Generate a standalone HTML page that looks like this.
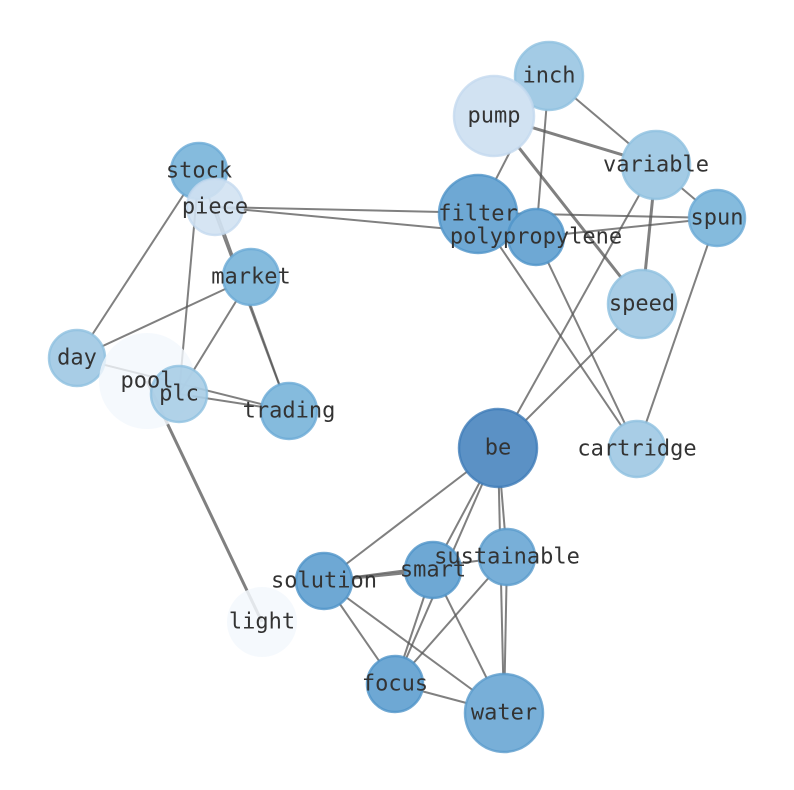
<!DOCTYPE html>
<html><head><meta charset="utf-8"><style>html,body{margin:0;padding:0;background:#fff}svg{display:block}</style></head>
<body>
<svg width="794" height="790" viewBox="0 0 794 790" xmlns="http://www.w3.org/2000/svg">
<g stroke="#555" stroke-opacity="0.75" stroke-width="2" fill="none">
<line x1="549" y1="76" x2="478" y2="214"/>
<line x1="549" y1="76" x2="536" y2="237"/>
<line x1="549" y1="76" x2="717" y2="218"/>
<line x1="494" y1="116" x2="656" y2="165" stroke-width="3"/>
<line x1="494" y1="116" x2="642" y2="304" stroke-width="3"/>
<line x1="656" y1="165" x2="642" y2="304" stroke-width="3"/>
<line x1="656" y1="165" x2="498" y2="448"/>
<line x1="215" y1="207" x2="717" y2="218"/>
<line x1="215" y1="207" x2="536" y2="237"/>
<line x1="536" y1="237" x2="717" y2="218"/>
<line x1="478" y1="214" x2="637" y2="449"/>
<line x1="536" y1="237" x2="637" y2="449"/>
<line x1="717" y1="218" x2="637" y2="449"/>
<line x1="642" y1="304" x2="498" y2="448"/>
<line x1="199" y1="171" x2="77" y2="358"/>
<line x1="199" y1="171" x2="179" y2="394"/>
<line x1="199" y1="171" x2="289" y2="411"/>
<line x1="215" y1="207" x2="289" y2="411"/>
<line x1="251" y1="277" x2="77" y2="358"/>
<line x1="251" y1="277" x2="179" y2="394"/>
<line x1="77" y1="358" x2="289" y2="411"/>
<line x1="179" y1="394" x2="289" y2="411"/>
<line x1="147" y1="381" x2="262" y2="622" stroke-width="3"/>
<line x1="498" y1="448" x2="324" y2="581"/>
<line x1="498" y1="448" x2="433" y2="570"/>
<line x1="498" y1="448" x2="395" y2="684"/>
<line x1="498" y1="448" x2="507" y2="557"/>
<line x1="498" y1="448" x2="504" y2="713"/>
<line x1="324" y1="581" x2="433" y2="570" stroke-width="3"/>
<line x1="324" y1="581" x2="507" y2="557"/>
<line x1="324" y1="581" x2="395" y2="684"/>
<line x1="324" y1="581" x2="504" y2="713"/>
<line x1="433" y1="570" x2="395" y2="684"/>
<line x1="433" y1="570" x2="504" y2="713"/>
<line x1="507" y1="557" x2="395" y2="684"/>
<line x1="507" y1="557" x2="504" y2="713"/>
<line x1="395" y1="684" x2="504" y2="713"/>
</g>
<g stroke-width="2.5" stroke-opacity="0.8">
<circle cx="549" cy="76" r="34" fill="#a3cbe5" stroke="#8ec0e0"/>
<circle cx="494" cy="116" r="40" fill="#d1e2f2" stroke="#c4daef"/>
<circle cx="656" cy="165" r="34" fill="#a3cbe5" stroke="#8ec0e0"/>
<circle cx="717" cy="218" r="28" fill="#85bbdd" stroke="#6aaad6"/>
<circle cx="478" cy="214" r="39" fill="#6ea8d4" stroke="#4f93c8"/>
<circle cx="536" cy="237" r="28" fill="#6ea8d4" stroke="#4f93c8"/>
<circle cx="642" cy="304" r="34" fill="#a8cde6" stroke="#8ec0e0"/>
<circle cx="637" cy="449" r="28" fill="#a8cde6" stroke="#8ec0e0"/>
<circle cx="498" cy="448" r="39" fill="#5b91c5" stroke="#3f7cb8"/>
<circle cx="199" cy="171" r="28" fill="#85bbdd" stroke="#6aaad6"/>
<circle cx="215" cy="207" r="28" fill="#d1e2f2" fill-opacity="0.9" stroke="#c4daef"/>
<circle cx="251" cy="277" r="28" fill="#85bbdd" stroke="#6aaad6"/>
<circle cx="77" cy="358" r="28" fill="#a8cde6" stroke="#8ec0e0"/>
<circle cx="147" cy="381" r="48" fill="#f3f8fd" fill-opacity="0.8" stroke="none"/>
<circle cx="179" cy="394" r="28" fill="#a8cde6" fill-opacity="0.9" stroke="#8ec0e0"/>
<circle cx="289" cy="411" r="28" fill="#85bbdd" stroke="#6aaad6"/>
<circle cx="324" cy="581" r="28" fill="#6ea8d4" stroke="#4f93c8"/>
<circle cx="433" cy="570" r="28" fill="#6ea8d4" stroke="#4f93c8"/>
<circle cx="507" cy="557" r="28" fill="#78afd8" stroke="#5a9bcc"/>
<circle cx="262" cy="622" r="35" fill="#f3f8fd" fill-opacity="0.85" stroke="none"/>
<circle cx="395" cy="684" r="28" fill="#6ea8d4" stroke="#4f93c8"/>
<circle cx="504" cy="713" r="39" fill="#78afd8" stroke="#5a9bcc"/>
</g>
<g font-family="DejaVu Sans Mono, Liberation Mono, monospace" font-size="22" fill="#333" text-anchor="middle" dominant-baseline="central">
<text x="549" y="76">inch</text>
<text x="494" y="116">pump</text>
<text x="656" y="165">variable</text>
<text x="717" y="218">spun</text>
<text x="478" y="214">filter</text>
<text x="536" y="237">polypropylene</text>
<text x="642" y="304">speed</text>
<text x="637" y="449">cartridge</text>
<text x="498" y="448">be</text>
<text x="199" y="171">stock</text>
<text x="215" y="207">piece</text>
<text x="251" y="277">market</text>
<text x="77" y="358">day</text>
<text x="147" y="381">pool</text>
<text x="179" y="394">plc</text>
<text x="289" y="411">trading</text>
<text x="324" y="581">solution</text>
<text x="433" y="570">smart</text>
<text x="507" y="557">sustainable</text>
<text x="262" y="622">light</text>
<text x="395" y="684">focus</text>
<text x="504" y="713">water</text>
</g>
</svg>
</body></html>
